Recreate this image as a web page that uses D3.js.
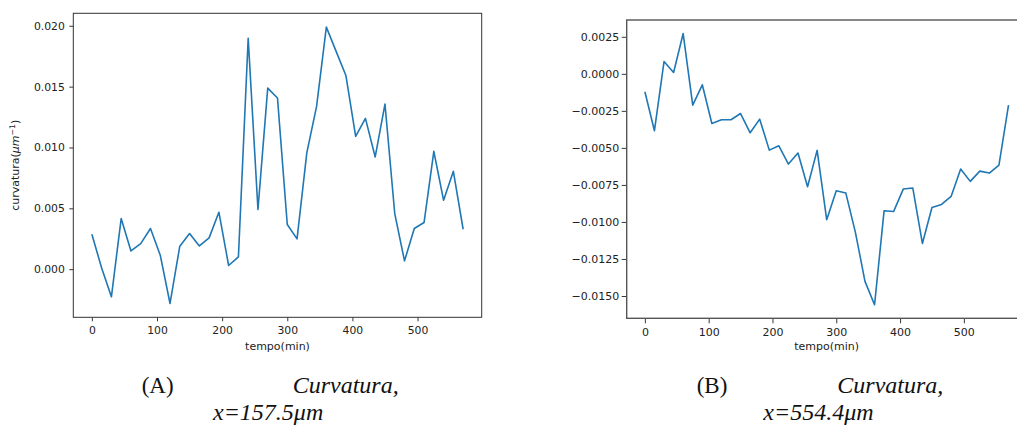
<!DOCTYPE html>
<html>
<head>
<meta charset="utf-8">
<script src="https://cdn.jsdelivr.net/npm/d3@7"></script>
<style>
  body { margin: 0; background: #fff; }
  svg { display: block; }
</style>
</head>
<body>
<svg id="fig" width="1017" height="428"></svg>
<script>
// sampling times (min)
const tempo = [0, 15, 30, 45, 60, 75, 90, 105, 120, 135, 150, 165, 180, 195, 210, 225, 240, 255, 270, 285,
               300, 315, 330, 345, 360, 375, 390, 405, 420, 435, 450, 465, 480, 495, 510, 525, 540, 555, 570];

// curvature at x = 157.5 µm
const curvA = [0.00287, 0.0001, -0.00227, 0.00416, 0.0015, 0.0021, 0.00334, 0.00115, -0.00282, 0.00189,
               0.00293, 0.00191, 0.00257, 0.00468, 0.0003, 0.00101, 0.01898, 0.0049, 0.01488, 0.01406,
               0.00367, 0.00249, 0.00955, 0.01338, 0.01989, 0.0179, 0.01592, 0.01092, 0.01239, 0.00922,
               0.01357, 0.00457, 0.00068, 0.00334, 0.00383, 0.00968, 0.00566, 0.00804, 0.00328];

// curvature at x = 554.4 µm
const curvB = [-0.00121, -0.00384, 0.00083, 0.00009, 0.00272, -0.00211, -0.00074, -0.00335, -0.0031, -0.0031,
               -0.00268, -0.00398, -0.00306, -0.00515, -0.00486, -0.00609, -0.00535, -0.00762, -0.00517, -0.00985,
               -0.00789, -0.00805, -0.0107, -0.01401, -0.01559, -0.00924, -0.00929, -0.00778, -0.00771, -0.01145,
               -0.00902, -0.00882, -0.00828, -0.00643, -0.00726, -0.00657, -0.0067, -0.00616, -0.00211];

const xTicks = [0, 100, 200, 300, 400, 500];
const yTicksA = [0.000, 0.005, 0.010, 0.015, 0.020];
const yTicksB = [0.0025, 0.0000, -0.0025, -0.0050, -0.0075, -0.0100, -0.0125, -0.0150];

const svg = d3.select("#fig");
const sans = "'DejaVu Sans', sans-serif";
const serif = "'Liberation Serif', 'DejaVu Serif', serif";

// pad an extent by 5% on each side, like matplotlib's default margins
function padded(ext) {
  const m = (ext[1] - ext[0]) * 0.05;
  return [ext[0] - m, ext[1] + m];
}

function panel(opts) {
  const { box, values, yTicks, yFmt, fontSize, tickLen, tickPad, spine, spineW } = opts;
  const g = svg.append("g");

  const x = d3.scaleLinear().domain(padded(d3.extent(tempo))).range([box.x0, box.x1]);
  const y = d3.scaleLinear().domain(padded(d3.extent(values))).range([box.y1, box.y0]);

  const clipId = "clip" + opts.id;
  g.append("clipPath").attr("id", clipId)
    .append("rect").attr("x", box.x0).attr("y", box.y0)
    .attr("width", box.x1 - box.x0).attr("height", box.y1 - box.y0);

  const line = d3.line().x((d, i) => x(tempo[i])).y(d => y(d));
  g.append("path")
    .datum(values)
    .attr("clip-path", `url(#${clipId})`)
    .attr("fill", "none")
    .attr("stroke", "#1f77b4")
    .attr("stroke-width", 1.6)
    .attr("stroke-linejoin", "round")
    .attr("d", line);

  const xAxis = g.append("g")
    .attr("transform", `translate(0,${box.y1})`)
    .call(d3.axisBottom(x).tickValues(xTicks).tickFormat(d3.format("d"))
      .tickSize(tickLen).tickPadding(tickPad.x));
  const yAxis = g.append("g")
    .attr("transform", `translate(${box.x0},0)`)
    .call(d3.axisLeft(y).tickValues(yTicks).tickFormat(d3.format(yFmt))
      .tickSize(tickLen).tickPadding(tickPad.y));

  [xAxis, yAxis].forEach(a => {
    a.select(".domain").remove();
    a.selectAll(".tick line").attr("stroke", "#222").attr("stroke-width", 0.9);
    a.selectAll(".tick text")
      .attr("fill", "#222")
      .style("font-family", sans)
      .style("font-size", fontSize + "px");
  });

  g.append("rect")
    .attr("x", box.x0).attr("y", box.y0)
    .attr("width", box.x1 - box.x0).attr("height", box.y1 - box.y0)
    .attr("fill", "none")
    .attr("stroke", spine)
    .attr("stroke-width", spineW);

  g.append("text")
    .attr("x", (box.x0 + box.x1) / 2)
    .attr("y", 350)
    .attr("text-anchor", "middle")
    .attr("fill", "#222")
    .style("font-family", sans)
    .style("font-size", "11px")
    .text("tempo(min)");

  return g;
}

panel({
  id: "A",
  box: { x0: 73.3, x1: 481.7, y0: 13.3, y1: 317.3 },
  values: curvA, yTicks: yTicksA, yFmt: ".3f",
  fontSize: 10.8, tickLen: 4, tickPad: { x: 5, y: 4.5 },
  spine: "#333", spineW: 1
});

panel({
  id: "B",
  box: { x0: 626.7, x1: 1026.7, y0: 20, y1: 318.3 },
  values: curvB, yTicks: yTicksB, yFmt: ".4f",
  fontSize: 11, tickLen: 5, tickPad: { x: 5, y: 2.5 },
  spine: "#555", spineW: 1.4
});

// y label of the first panel
const yl = svg.append("text")
  .attr("transform", "translate(19,165.3) rotate(-90)")
  .attr("text-anchor", "middle")
  .attr("fill", "#222")
  .style("font-family", sans)
  .style("font-size", "11px");
yl.append("tspan").text("curvatura(");
yl.append("tspan").style("font-style", "italic").text("μm");
yl.append("tspan").attr("dy", -4.5).style("font-size", "7.7px").text("−1");
yl.append("tspan").attr("dy", 4.5).text(")");

// sub-figure captions
function caption(tag, x1, x2, x3, pos) {
  const t = svg.append("g").style("font-family", serif).attr("fill", "#111");
  t.append("text").attr("x", x1).attr("y", 393).style("font-size", "23px")
    .text("(" + tag + ")");
  t.append("text").attr("x", x2).attr("y", 393).style("font-size", "24px")
    .style("font-style", "italic").text("Curvatura,");
  t.append("text").attr("x", x3).attr("y", 420).style("font-size", "24px")
    .style("font-style", "italic").text("x=" + pos + "μm");
}
caption("A", 141.7, 292.7, 213, "157.5");
caption("B", 696.7, 837.3, 763.3, "554.4");
</script>
</body>
</html>
